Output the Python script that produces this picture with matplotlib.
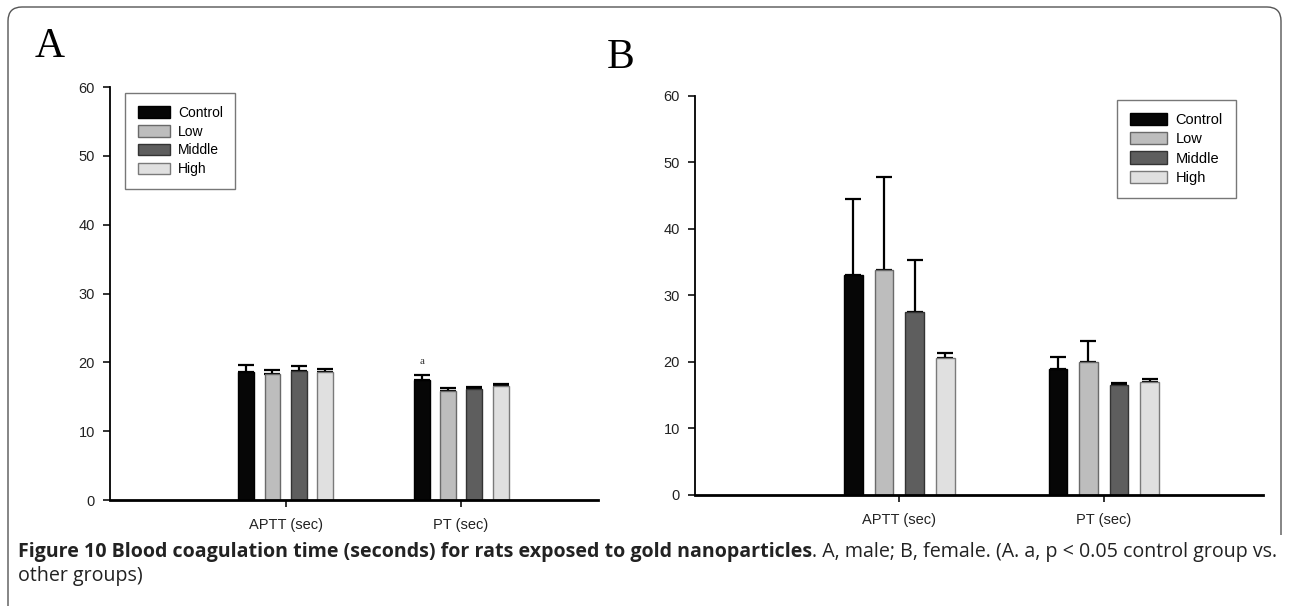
import numpy as np
import matplotlib.pyplot as plt
from matplotlib.path import Path
from matplotlib.patches import PathPatch

groups = ['Control', 'Low', 'Middle', 'High']
tests = ['APTT (sec)', 'PT (sec)']
colors = ['#060606', '#bdbdbd', '#5e5e5e', '#e0e0e0']
edges = ['#000000', '#6a6a6a', '#333333', '#7a7a7a']

# male (panel A): mean and upper error per group, [APTT, PT]
male_mean = {'Control': [18.6, 17.5], 'Low': [18.3, 15.8],
             'Middle': [18.8, 16.2], 'High': [18.6, 16.5]}
male_err = {'Control': [1.0, 0.7], 'Low': [0.6, 0.5],
            'Middle': [0.7, 0.2], 'High': [0.5, 0.3]}

# female (panel B)
female_mean = {'Control': [33.1, 19.0], 'Low': [33.8, 20.0],
               'Middle': [27.5, 16.5], 'High': [20.6, 17.05]}
female_err = {'Control': [11.4, 1.8], 'Low': [14.0, 3.1],
              'Middle': [7.8, 0.4], 'High': [0.7, 0.4]}

caption_bold = ('Figure 10 Blood coagulation time (seconds) for rats exposed '
                'to gold nanoparticles')
caption_rest = '. A, male; B, female. (A. a, p < 0.05 control group vs.'
caption_line2 = 'other groups)'

plt.rcParams['font.family'] = ['Liberation Sans', 'DejaVu Sans']

W, H = 1290, 606
fig = plt.figure(figsize=(W / 100, H / 100), dpi=100)


def draw_panel(ax, means, errs, legend_anchor, legend_loc, leg_fs, leg_hl):
    x = np.arange(1, len(tests) + 1)
    width = 0.09
    step = 0.15
    for i, g in enumerate(groups):
        pos = x + (i - 1.5) * step
        ax.errorbar(pos, means[g], yerr=[np.zeros(len(tests)), errs[g]],
                    fmt='none', ecolor='black', elinewidth=1.6,
                    capsize=5.5, capthick=1.6, zorder=1)
        ax.bar(pos, means[g], width=width, color=colors[i],
               edgecolor=edges[i], linewidth=1.0, label=g, zorder=2)
    ax.set_xlim(0, 2.78)
    ax.set_ylim(0, 60)
    ax.set_yticks(range(0, 61, 10))
    ax.set_xticks(x)
    ax.set_xticklabels(tests)
    for s in ['top', 'right']:
        ax.spines[s].set_visible(False)
    ax.spines['left'].set_linewidth(1.3)
    ax.spines['bottom'].set_linewidth(2.0)
    ax.tick_params(axis='y', direction='out', length=5, width=1.3,
                   labelsize=10.5, pad=6, colors='#222222')
    ax.tick_params(axis='x', direction='out', length=5, width=1.3,
                   labelsize=10.5, pad=8, colors='#222222')
    leg = ax.legend(loc=legend_loc, bbox_to_anchor=legend_anchor,
                    fontsize=leg_fs, fancybox=False, handlelength=leg_hl,
                    handleheight=0.9, labelspacing=0.35, borderpad=0.9,
                    handletextpad=0.6, borderaxespad=0)
    leg.get_frame().set_edgecolor('#555555')
    leg.get_frame().set_linewidth(1.0)


axA = fig.add_axes([0.0853, 0.1749, 0.3783, 0.6815])
draw_panel(axA, male_mean, male_err, (0.031, 0.985), 'upper left', 10, 2.3)
# significance mark over the male PT control bar
axA.text(2 - 1.5 * 0.15, male_mean['Control'][1] + male_err['Control'][1] + 1.2,
         'a', ha='center', va='bottom', fontsize=8,
         family='Liberation Serif', color='#333333')

axB = fig.add_axes([0.5388, 0.1832, 0.4403, 0.6584])
draw_panel(axB, female_mean, female_err, (0.952, 0.99), 'upper right',
           10.5, 2.5)

fig.text(35 / W, 1 - 47 / H, 'A', fontsize=30, family='Liberation Serif',
         va='center', ha='left')
fig.text(607 / W, 1 - 58 / H, 'B', fontsize=30, family='Liberation Serif',
         va='center', ha='left')

# rounded frame around the figure
r = 14
x0, x1, y_top, y_bot = 8, 1281, 7, 606
verts = [(x0, y_bot), (x0, y_top + r), (x0, y_top), (x0 + r, y_top),
         (x1 - r, y_top), (x1, y_top), (x1, y_top + r), (x1, 535)]
codes = [Path.MOVETO, Path.LINETO, Path.CURVE3, Path.CURVE3,
         Path.LINETO, Path.CURVE3, Path.CURVE3, Path.LINETO]
verts = [(vx / W, 1 - vy / H) for vx, vy in verts]
fig.add_artist(PathPatch(Path(verts, codes), transform=fig.transFigure,
                         fill=False, edgecolor='#555555', linewidth=1.0))

# caption, first line stretched to run from 18 px to 1278 px
cap_font = ['Open Sans', 'DejaVu Sans']
fs = 11
t1 = fig.text(18 / W, 1 - 552 / H, caption_bold, fontsize=fs,
              fontweight='bold', family=cap_font, va='center', ha='left',
              color='#222222')
t2 = fig.text(0, 1 - 552 / H, caption_rest, fontsize=fs, family=cap_font,
              va='center', ha='left', color='#222222')
t3 = fig.text(18 / W, 1 - 576 / H, caption_line2, fontsize=fs,
              family=cap_font, va='center', ha='left', color='#222222')
fig.canvas.draw()
total = t1.get_window_extent().width + t2.get_window_extent().width
fs = fs * (1278 - 18) / total
for t in (t1, t2, t3):
    t.set_fontsize(fs)
fig.canvas.draw()
t2.set_x(t1.get_window_extent().x1 / W)

fig.savefig('out.png', dpi=100)
